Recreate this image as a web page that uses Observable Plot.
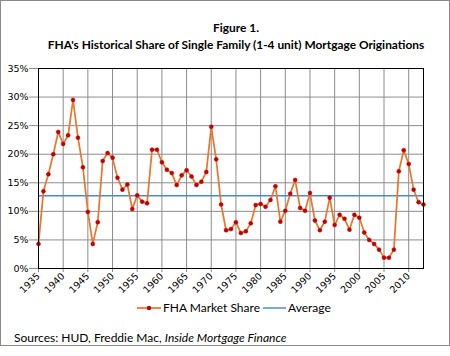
<!DOCTYPE html>
<html>
<head>
<meta charset="utf-8">
<script src="https://cdn.jsdelivr.net/npm/d3@7"></script>
<script src="https://cdn.jsdelivr.net/npm/@observablehq/plot@0.6"></script>
<style>
  body { margin: 0; background: #fff; }
  #wrap { position: relative; width: 450px; height: 356px; overflow: hidden; background: #fff; }
  #frame { position: absolute; left: 0; top: 0; width: 448px; height: 344px; border: 1px solid #8a8a8a; }
  .title { position: absolute; left: 22px; width: 428px; text-align: center; font-family: Lato, "Open Sans", sans-serif; font-weight: bold; font-size: 11.9px; color: #000; white-space: nowrap; }
  #chart { position: absolute; left: 0; top: 55px; }
  #legend { position: absolute; top: 300px; left: 0; width: 450px; font-family: Lato, sans-serif; font-size: 12px; color: #000; }
  #legend .item { position: absolute; top: 0; display: flex; align-items: center; white-space: nowrap; }
  #source { position: absolute; left: 14px; top: 330px; font-family: Lato, sans-serif; font-size: 12px; color: #000; white-space: nowrap; }
</style>
</head>
<body>
<div id="wrap">
  <div id="frame"></div>
  <div class="title" style="top:20px">Figure 1.</div>
  <div class="title" style="top:37px">FHA's Historical Share of Single Family (1-4 unit) Mortgage Originations</div>
  <div id="chart"></div>
  <div id="legend"></div>
  <div id="source">Sources: HUD, Freddie Mac, <i>Inside Mortgage Finance</i></div>
</div>
<script>
const years = [1935,1936,1937,1938,1939,1940,1941,1942,1943,1944,1945,1946,1947,1948,1949,1950,1951,1952,1953,1954,1955,1956,1957,1958,1959,1960,1961,1962,1963,1964,1965,1966,1967,1968,1969,1970,1971,1972,1973,1974,1975,1976,1977,1978,1979,1980,1981,1982,1983,1984,1985,1986,1987,1988,1989,1990,1991,1992,1993,1994,1995,1996,1997,1998,1999,2000,2001,2002,2003,2004,2005,2006,2007,2008,2009,2010,2011,2012,2013];
const fhaShare = [4.3,13.5,16.5,20.0,23.9,21.8,23.3,29.5,22.9,17.7,9.9,4.3,8.1,18.8,20.2,19.4,15.9,13.8,14.7,10.4,12.8,11.7,11.4,20.8,20.8,18.6,17.3,16.7,14.6,16.3,17.2,16.1,14.6,15.2,16.9,24.8,19.1,11.2,6.7,6.9,8.1,6.2,6.5,7.9,11.1,11.3,10.8,12.0,14.4,8.2,10.1,13.1,15.5,10.6,10.1,13.2,8.4,6.7,8.2,12.4,7.6,9.4,8.7,6.8,9.4,8.9,6.3,5.0,4.3,3.3,1.9,1.9,3.3,17.0,20.7,18.3,13.8,11.6,11.2];
const averageShare = 12.75;
const xTicks = [1935,1940,1945,1950,1955,1960,1965,1970,1975,1980,1985,1990,1995,2000,2005,2010];
const yTicks = [0,5,10,15,20,25,30,35];
const seriesNames = ["FHA Market Share", "Average"];

const lineColor = "#E8782F";
const dotColor = "#C00000";
const avgColor = "#4A8CCB";

const data = years.map((y, i) => ({year: y, share: fhaShare[i]}));

const chart = Plot.plot({
  width: 450,
  height: 240,
  marginLeft: 38,
  marginRight: 27,
  marginTop: 13,
  marginBottom: 27,
  style: {fontFamily: "'DejaVu Sans', sans-serif", fontSize: "9.5px", background: "transparent", color: "#000"},
  x: {domain: [1935, 2013], label: null},
  y: {domain: [0, 35], label: null},
  marks: [
    Plot.gridX(xTicks, {stroke: "#8c8c8c", strokeOpacity: 1}),
    Plot.gridY(yTicks, {stroke: "#8c8c8c", strokeOpacity: 1}),
    Plot.axisY(yTicks, {tickFormat: d => d + "%", tickSize: 9, tickPadding: 1, stroke: "#8c8c8c", fontSize: 9.5}),
    Plot.axisX(xTicks, {tickFormat: d => String(d), tickSize: 4, tickPadding: 2, tickRotate: -45, stroke: "#8c8c8c", fontSize: 9.5}),
    Plot.ruleY([averageShare], {stroke: avgColor, strokeWidth: 1.5}),
    Plot.line(data, {x: "year", y: "share", stroke: lineColor, strokeWidth: 1.75}),
    Plot.dot(data, {x: "year", y: "share", r: 2, fill: dotColor, stroke: dotColor, strokeWidth: 0.5}),
    Plot.frame({stroke: "#000", strokeWidth: 1})
  ]
});
document.getElementById("chart").appendChild(chart);

const legend = document.getElementById("legend");
legend.innerHTML = `
  <div class="item" style="left:137px">
    <svg width="24" height="10"><line x1="0" y1="5" x2="24" y2="5" stroke="${lineColor}" stroke-width="1.75"/><circle cx="12" cy="5" r="2.2" fill="${dotColor}"/></svg>
    <span style="margin-left:2px">${seriesNames[0]}</span>
  </div>
  <div class="item" style="left:263px">
    <svg width="23" height="10"><line x1="0" y1="5" x2="23" y2="5" stroke="${avgColor}" stroke-width="1.5"/></svg>
    <span style="margin-left:2px">${seriesNames[1]}</span>
  </div>`;
</script>
</body>
</html>
